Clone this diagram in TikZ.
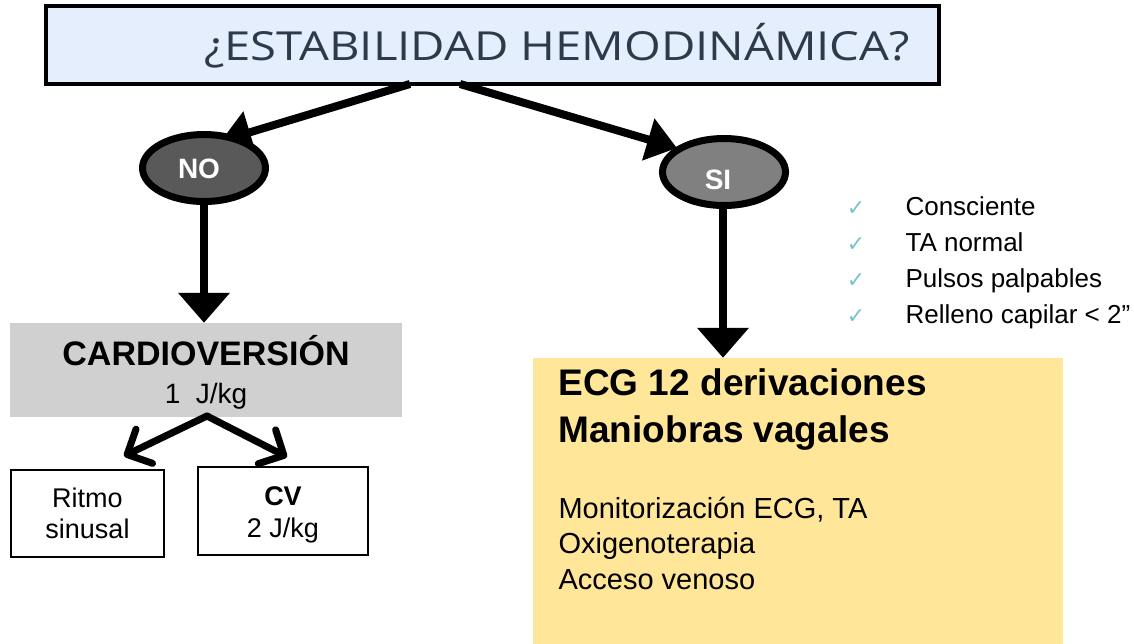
\documentclass[tikz,border=0pt]{standalone}
\usepackage{fontspec}
\setmainfont{Liberation Sans}
\newfontfamily\titlefont{Open Sans}
\newfontfamily\symfont{DejaVu Sans}
\usetikzlibrary{arrows.meta,shapes.geometric}
\definecolor{titlefill}{HTML}{E5EEFD}
\definecolor{titletext}{HTML}{2E3A4B}
\definecolor{nofill}{HTML}{595959}
\definecolor{sifill}{HTML}{808080}
\definecolor{cardfill}{HTML}{D0D0D0}
\definecolor{yellowfill}{HTML}{FFE699}
\definecolor{checkcol}{HTML}{78C3C6}
\tikzset{
  bigarrow/.style={line width=8.5pt,-{Triangle[width=50pt,length=30pt]}},
  midarrow/.style={line width=8pt,-{Triangle[width=42pt,length=30pt]}},
  smallarrow/.style={line width=7pt,line cap=round,-{Straight Barb[length=19pt,width=38pt,line cap=round,line join=round]}},
  decision/.style={ellipse,draw=black,line width=7pt,minimum width=123pt,minimum height=67pt,inner sep=0pt},
  decisiontext/.style={text=white,font=\fontsize{28}{30}\selectfont\bfseries,anchor=base},
  outbox/.style={draw=black,line width=1.2pt,fill=white,inner sep=0pt},
  boxtext/.style={anchor=base,font=\fontsize{27}{30}\selectfont},
  checkitem/.style={anchor=base west,font=\fontsize{26}{30}\selectfont},
  checkmark/.style={anchor=base,text=checkcol,font=\symfont\fontsize{22}{24}\selectfont},
  bighead/.style={anchor=base west,font=\fontsize{37}{40}\selectfont\bfseries},
  smalltext/.style={anchor=base west,font=\fontsize{29}{32}\selectfont}
}
\begin{document}
\begin{tikzpicture}[x=1pt,y=-1pt]
\useasboundingbox (0,0) rectangle (1134,643);
% title
\node[draw=black,line width=4pt,fill=titlefill,minimum width=893pt,minimum height=78pt,inner sep=0pt] (title) at (492.5,45) {};
\node[text=titletext,font=\titlefont\fontsize{40}{44}\selectfont,anchor=base,inner sep=0pt] (titletxt) at (557,60) {\scalebox{1.18}[1]{¿ESTABILIDAD HEMODINÁMICA?}};
% decisions
\coordinate (tl) at (410,84);
\coordinate (tr) at (460,84);
\coordinate (notip) at (221,141);
\coordinate (sitip) at (677,148);
\draw[midarrow] (tl) -- (notip);
\draw[midarrow] (tr) -- (sitip);
\node[decision,fill=nofill] (no) at (204,168) {};
\node[decision,fill=sifill] (si) at (724,172) {};
\node[decisiontext] (notxt) at (199,178) {NO};
\node[decisiontext] (sitxt) at (718,189) {SI};
% cardioversion
\node[fill=cardfill,minimum width=392pt,minimum height=94pt,inner sep=0pt] (card) at (206,370) {};
\node[anchor=base,font=\fontsize{34}{36}\selectfont\bfseries] (cardt) at (206,365) {CARDIOVERSIÓN};
\node[anchor=base,font=\fontsize{28}{30}\selectfont] (cardd) at (206,403) {1\ \ J/kg};
\draw[bigarrow] (no.south) -- (card.north -| no.south);
% outcomes
\node[outbox,minimum width=153pt,minimum height=87pt] (ritmo) at (87.5,513.5) {};
\node[boxtext] (r1) at (ritmo.center |- 0,507) {Ritmo};
\node[boxtext] (r2) at (ritmo.center |- 0,538) {sinusal};
\node[outbox,minimum width=170pt,minimum height=88pt] (cv) at (283,511) {};
\node[boxtext,font=\fontsize{27}{30}\selectfont\bfseries] (c1) at (cv.center |- 0,505) {CV};
\node[boxtext] (c2) at (cv.center |- 0,537) {2 J/kg};
\coordinate (cs) at (207,416);
\coordinate (ct1) at (124,456);
\coordinate (ct2) at (287,457);
\draw[smallarrow] (cs) -- (ct1);
\draw[smallarrow] (cs) -- (ct2);
% yellow box
\node[fill=yellowfill,minimum width=530pt,minimum height=286pt,inner sep=0pt] (ecg) at (798,501) {};
\draw[bigarrow] (si.south -| 723,0) -- (ecg.north -| 723,0);
\node[bighead] (e1) at (555,395) {ECG 12 derivaciones};
\node[bighead] (e2) at (555,442) {Maniobras vagales};
\node[smalltext] (e3) at (555,518) {Monitorización ECG, TA};
\node[smalltext] (e4) at (555,553.5) {Oxigenoterapia};
\node[smalltext] (e5) at (555,589) {Acceso venoso};
% checklist
\foreach \t [count=\i] in {Consciente,TA normal,Pulsos palpables,Relleno capilar < 2”}{
  \node[checkmark] (ck\i) at (856,179+36*\i) {✓};
  \node[checkitem] (cl\i) at (902,179+36*\i) {\t};
}
\end{tikzpicture}
\end{document}
